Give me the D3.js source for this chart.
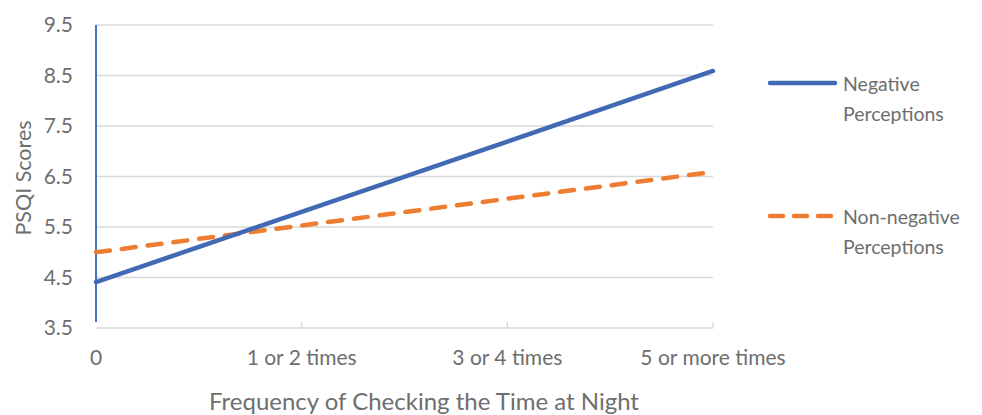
<!DOCTYPE html>
<html><head><meta charset="utf-8">
<script src="https://cdn.jsdelivr.net/npm/d3@7"></script>
<style>
body{margin:0;background:#fff;}
text{font-family:Lato,"Open Sans",sans-serif;fill:#6e6e6e;}
</style></head>
<body><svg id="c" width="982" height="415"></svg>
<script>
const categories = ["0","1 or 2 times","3 or 4 times","5 or more times"];
const negative = [4.41, 5.80, 7.19, 8.59];
const nonNegative = [5.00, 5.53, 6.06, 6.59];
const yTicks = [3.5,4.5,5.5,6.5,7.5,8.5,9.5];
const seriesNames = [["Negative","Perceptions"],["Non-negative","Perceptions"]];
const colors = ["#4169B4","#ED7D31"];

(function(){
const svg = d3.select("#c");
const pL=96, pR=713, pT=25, pB=328;
const x = d3.scaleLinear().domain([0,categories.length-1]).range([pL,pR]);
const y = d3.scaleLinear().domain([3.5,9.5]).range([pB,pT]);

svg.append("g").selectAll("line").data(yTicks).join("line")
  .attr("x1",pL).attr("x2",pR).attr("y1",d=>y(d)).attr("y2",d=>y(d))
  .attr("stroke","#d9d9d9").attr("stroke-width",1.3);

svg.append("g").selectAll("text").data(yTicks).join("text")
  .attr("x",73).attr("y",d=>y(d)+7).attr("text-anchor","end")
  .style("font-size","21px").text(d=>d.toFixed(1));

svg.append("g").selectAll("line").data(d3.range(1,categories.length)).join("line")
  .attr("x1",d=>x(d)).attr("x2",d=>x(d)).attr("y1",pB-6).attr("y2",pB)
  .attr("stroke","#d9d9d9").attr("stroke-width",1.3);

svg.append("g").selectAll("text").data(categories).join("text")
  .attr("x",(d,i)=>x(i)).attr("y",365).attr("text-anchor","middle")
  .style("font-size","21px").text(d=>d);

svg.append("line").attr("x1",x(0)).attr("x2",x(0)).attr("y1",y(9.5)).attr("y2",y(3.62))
  .attr("stroke","#4472C4").attr("stroke-width",2);

const line = d3.line().x((d,i)=>x(i)).y(d=>y(d));
svg.append("path").datum(nonNegative).attr("d",line).attr("fill","none")
  .attr("stroke",colors[1]).attr("stroke-width",4.5).attr("stroke-dasharray","14,12")
  .attr("stroke-linecap","round");
svg.append("path").datum(negative).attr("d",line).attr("fill","none")
  .attr("stroke",colors[0]).attr("stroke-width",4.5).attr("stroke-linecap","round");

svg.append("text").attr("transform","translate(31,178) rotate(-90)").attr("text-anchor","middle")
  .style("font-size","21.5px").text("PSQI Scores");
svg.append("text").attr("x",424).attr("y",410).attr("text-anchor","middle")
  .style("font-size","24px").text("Frequency of Checking the Time at Night");

const legY = [83, 216];
seriesNames.forEach((nm,i)=>{
  const g = svg.append("g");
  g.append("line").attr("x1",770).attr("x2",835).attr("y1",legY[i]).attr("y2",legY[i])
    .attr("stroke",colors[i]).attr("stroke-width",4.5).attr("stroke-linecap","round")
    .attr("stroke-dasharray",i===1?"13,11":null);
  nm.forEach((t,j)=>g.append("text").attr("x",843).attr("y",legY[i]+8+j*30)
    .style("font-size","19.5px").text(t));
});
})();
</script></body></html>
